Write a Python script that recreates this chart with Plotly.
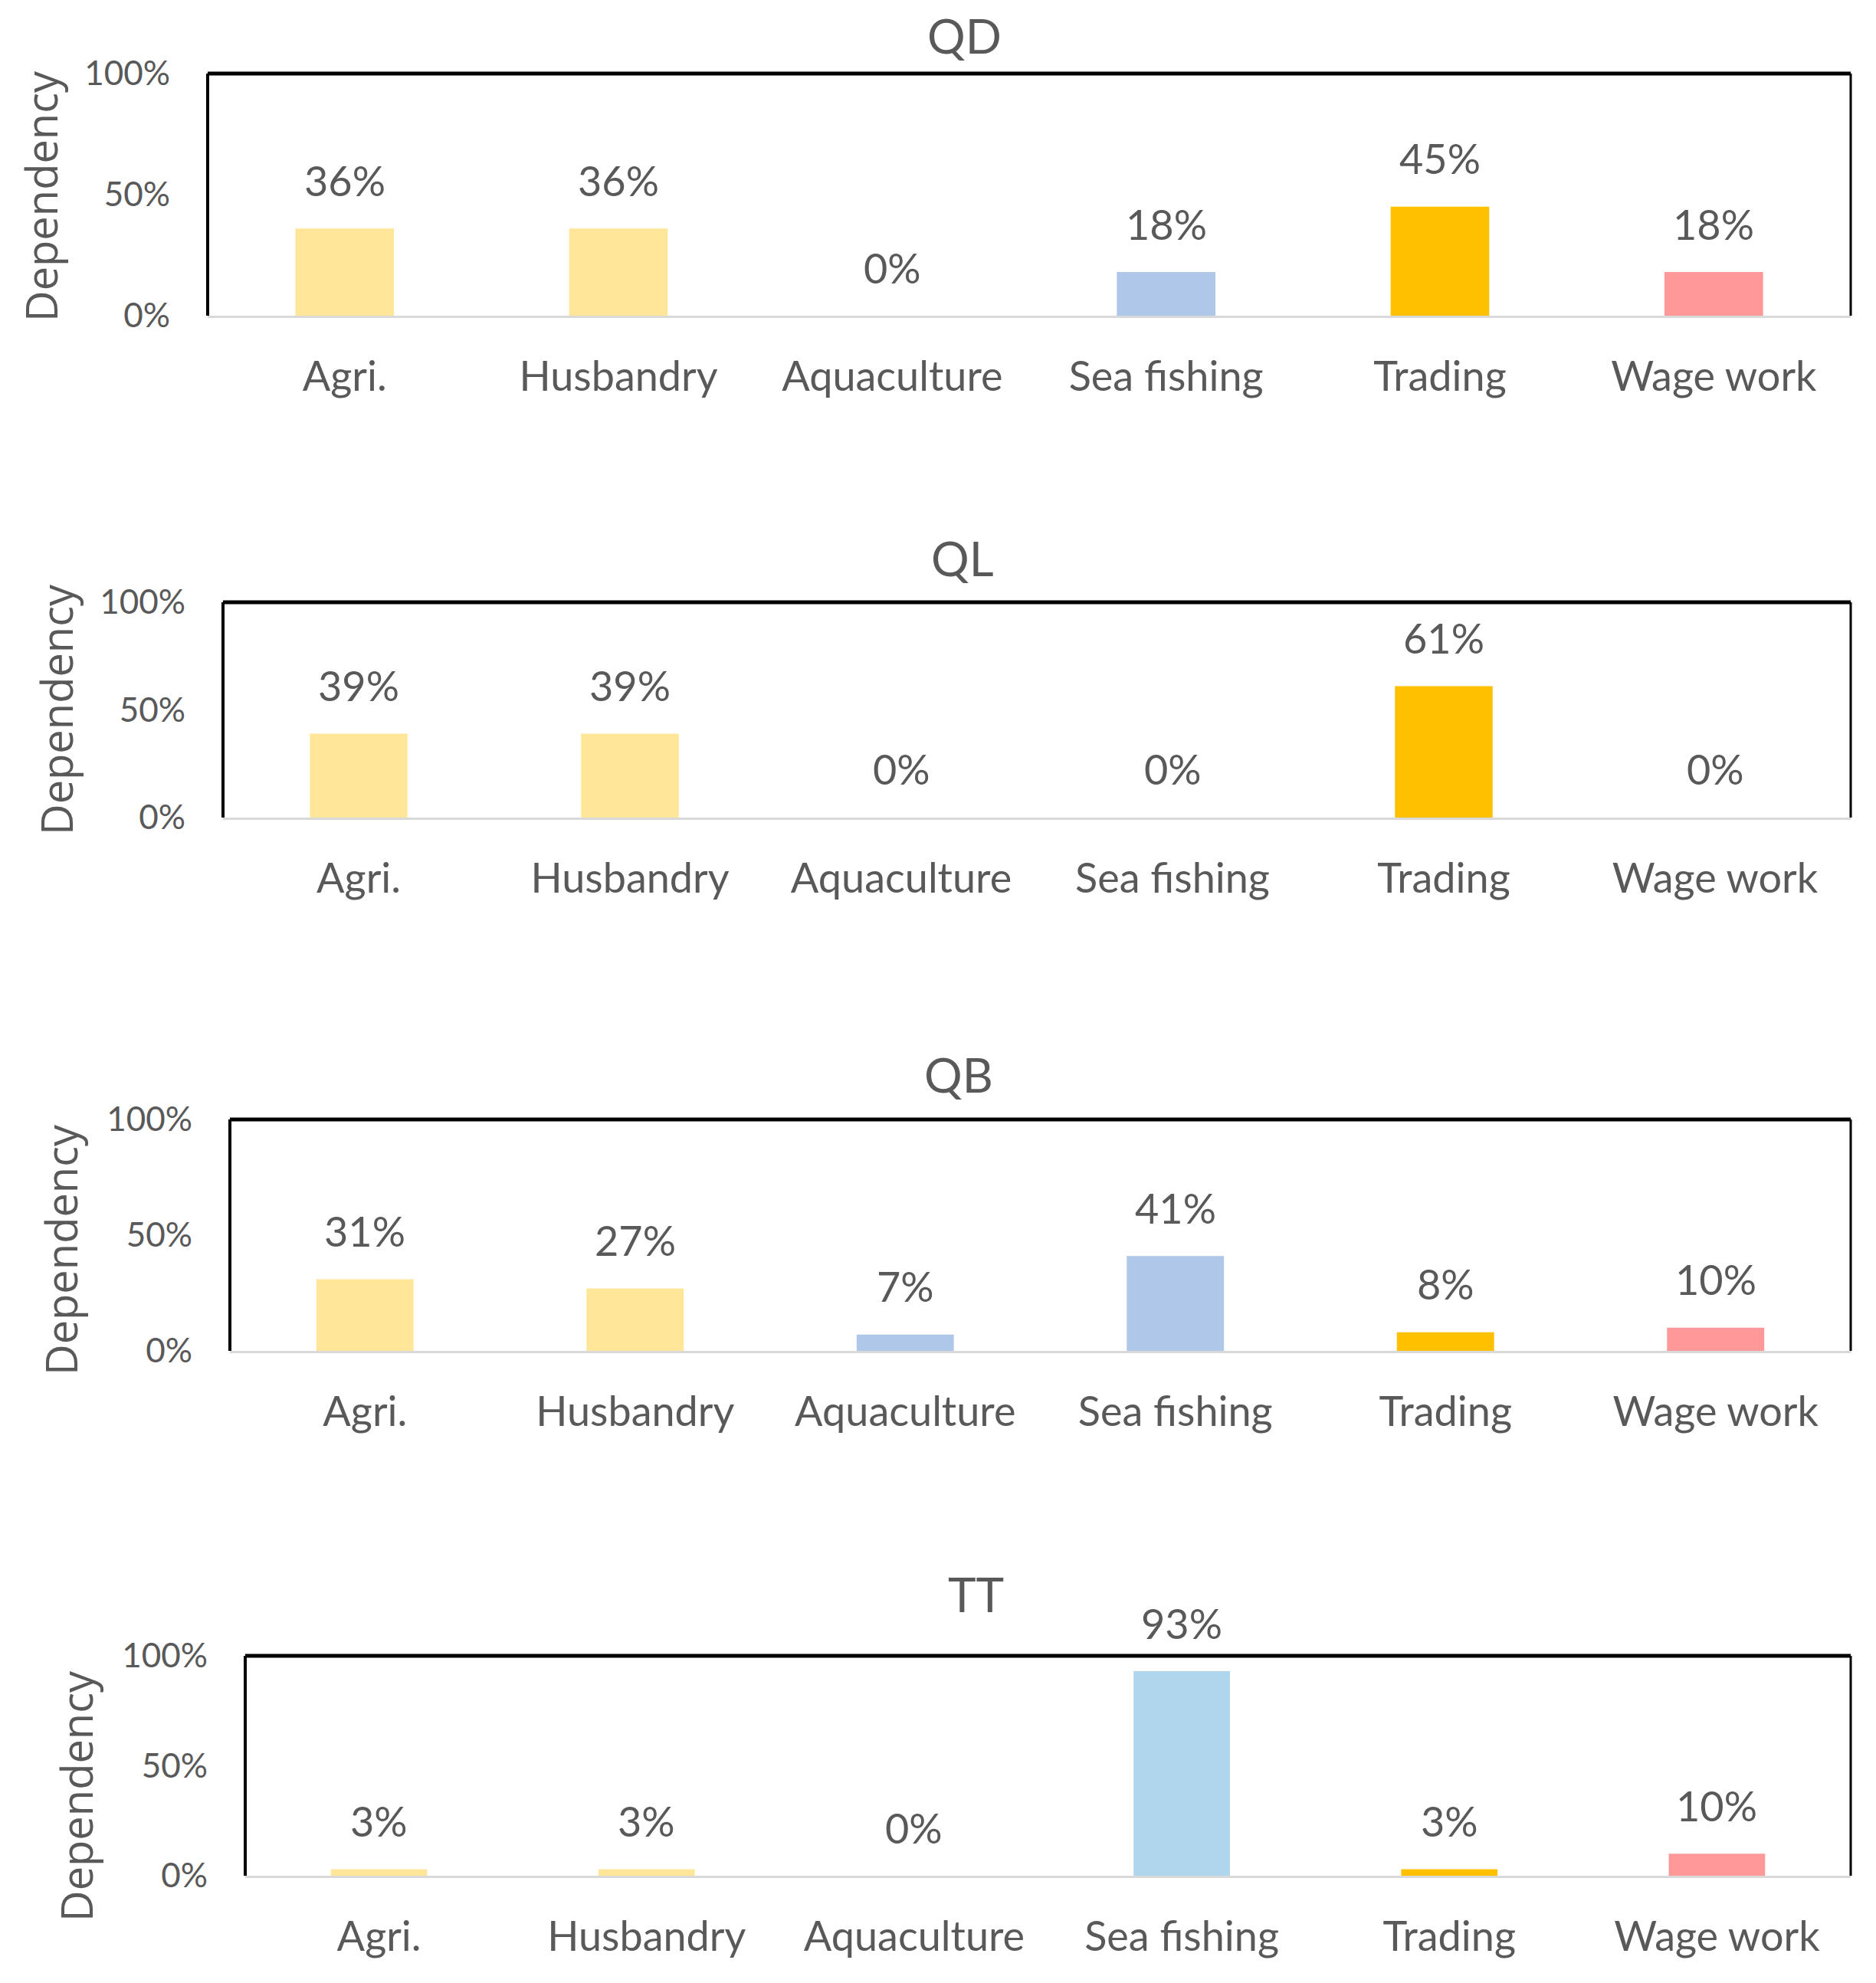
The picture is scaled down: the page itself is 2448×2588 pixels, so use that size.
import plotly.graph_objects as go

# page is 2448x2588; the browser body adds an 8 px margin, so the figure is 8 px smaller
OFF = 8
W, H = 2448 - 2 * OFF, 2588 - 2 * OFF

categories = ["Agri.", "Husbandry", "Aquaculture", "Sea fishing", "Trading", "Wage work"]
panel_names = ["QD", "QL", "QB", "TT"]

qd_values = [0.36, 0.36, 0.00, 0.18, 0.45, 0.18]
ql_values = [0.39, 0.39, 0.00, 0.00, 0.61, 0.00]
qb_values = [0.31, 0.27, 0.07, 0.41, 0.08, 0.10]
tt_values = [0.03, 0.03, 0.00, 0.93, 0.03, 0.10]

qd_colors = ["#FFE699", "#FFE699", "#AFC7E8", "#AFC7E8", "#FFC000", "#FF9999"]
ql_colors = ["#FFE699", "#FFE699", "#AFC7E8", "#AFC7E8", "#FFC000", "#FF9999"]
qb_colors = ["#FFE699", "#FFE699", "#AFC7E8", "#AFC7E8", "#FFC000", "#FF9999"]
tt_colors = ["#FFE699", "#FFE699", "#B0D6EE", "#B0D6EE", "#FFC000", "#FF9999"]

y_tickvals = [0, 0.5, 1.0]
y_title = "Dependency"

values_list = [qd_values, ql_values, qb_values, tt_values]
colors_list = [qd_colors, ql_colors, qb_colors, tt_colors]

# layout geometry in page pixels: (left, right, top, bottom)
boxes = [(271, 2415, 96, 412), (291, 2415, 786, 1067), (300, 2415, 1461, 1763), (320, 2415, 2161, 2448)]
title_pos = [(1258, 46), (1255, 728), (1251, 1402), (1273, 2080)]
ytitle_pos = [(53, 256), (73, 926), (79, 1631), (99, 2344)]


def px(x):
    return (x - OFF) / W


def py(y):
    return 1 - (y - OFF) / H


TXT = "#595959"
LABEL_FONT = "Lato, Liberation Sans, sans-serif"

fig = go.Figure()
layout = dict(
    template="none",
    width=W, height=H,
    margin=dict(l=0, r=0, t=0, b=0, pad=0, autoexpand=False),
    paper_bgcolor="white", plot_bgcolor="white",
    showlegend=False,
    font=dict(family=LABEL_FONT, color=TXT),
)
annotations = []
shapes = []

for i, (name, vals, cols) in enumerate(zip(panel_names, values_list, colors_list)):
    n = i + 1
    sx = "" if n == 1 else str(n)
    l, r, t, b = boxes[i]
    fig.add_trace(go.Bar(
        x=categories, y=vals, marker=dict(color=cols, line=dict(width=0)),
        width=0.36, xaxis="x" + sx, yaxis="y" + sx, cliponaxis=False,
        hoverinfo="skip",
    ))
    layout["xaxis" + sx] = dict(
        domain=[px(l), px(r)], anchor="y" + sx, automargin=False,
        showline=True, linecolor="#D9D9D9", linewidth=3,
        showgrid=False, zeroline=False, ticks="",
        tickfont=dict(size=54, color=TXT, family=LABEL_FONT),
        ticklabelstandoff=30, fixedrange=True,
    )
    layout["yaxis" + sx] = dict(
        domain=[py(b), py(t)], anchor="x" + sx, automargin=False,
        range=[0, 1], tickvals=y_tickvals, tickformat=".0%",
        showline=False, showgrid=False, zeroline=False, ticks="",
        tickfont=dict(size=44, color=TXT, family=LABEL_FONT),
        ticklabelstandoff=48, fixedrange=True,
    )
    # frame: left, top, right in black
    for (x0, y0, x1, y1, w) in [(0, 0, 0, 1, 4), (0, 1, 1, 1, 5), (1, 1, 1, 0, 3)]:
        shapes.append(dict(type="line", xref="x" + sx + " domain", yref="y" + sx + " domain",
                           x0=x0, y0=y0, x1=x1, y1=y1, line=dict(color="black", width=w)))
    # data labels
    for c, v in zip(categories, vals):
        annotations.append(dict(
            x=c, y=v, xref="x" + sx, yref="y" + sx, text=f"{round(v*100)}%",
            showarrow=False, yshift=63, yanchor="middle",
            font=dict(size=54, color=TXT, family=LABEL_FONT),
        ))
    # panel title
    tx, ty = title_pos[i]
    annotations.append(dict(
        x=px(tx), y=py(ty), xref="paper", yref="paper", text=name,
        showarrow=False, xanchor="center", yanchor="middle",
        font=dict(size=62, color=TXT, family=LABEL_FONT),
    ))
    # y-axis title
    yx, yy = ytitle_pos[i]
    annotations.append(dict(
        x=px(yx), y=py(yy), xref="paper", yref="paper", text=y_title,
        showarrow=False, xanchor="center", yanchor="middle", textangle=-90,
        font=dict(size=56, color=TXT, family="Open Sans, sans-serif"),
    ))

layout["annotations"] = annotations
layout["shapes"] = shapes
fig.update_layout(**layout)
fig.write_html("out.html")
